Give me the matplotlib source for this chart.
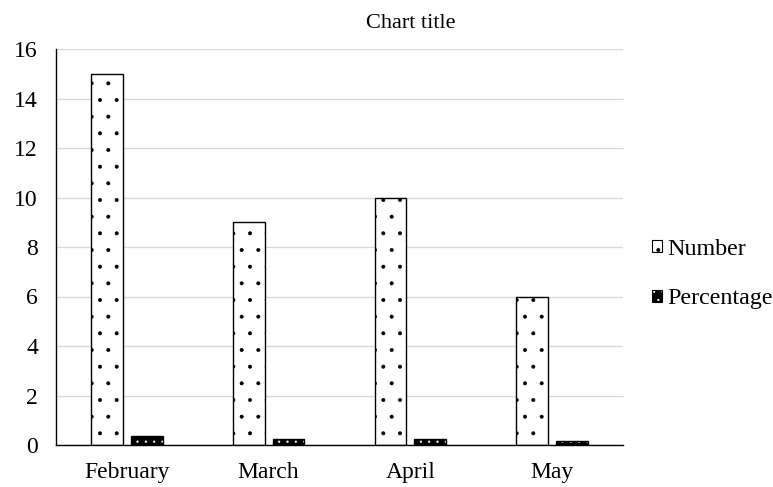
import matplotlib
matplotlib.use("Agg")
import matplotlib.pyplot as plt
from matplotlib.patches import Patch
from matplotlib.legend_handler import HandlerTuple
import numpy as np

months = ["February", "March", "April", "May"]
number = [15, 9, 10, 6]
percentage = [0.375, 0.225, 0.25, 0.15]
y_ticks = [0, 2, 4, 6, 8, 10, 12, 14, 16]

plt.rcParams["font.family"] = ["Liberation Serif", "DejaVu Serif"]
plt.rcParams["hatch.linewidth"] = 0.4

fig = plt.figure(figsize=(7.73, 4.87), dpi=100)
ax = fig.add_axes([56 / 773, 42 / 487, 567 / 773, 396 / 487])

x = np.arange(len(months))
w = 0.225
off = 0.14

# Number: white bars with sparse black dots
ax.bar(x - off, number, w, facecolor="white", edgecolor="black",
       hatch=".", linewidth=1.0, zorder=3)

# Percentage: black bars with dense white dots, then a black outline
ax.bar(x + off, percentage, w, facecolor="black", edgecolor="white",
       hatch="..", linewidth=0, zorder=3)
ax.bar(x + off, percentage, w, facecolor="none", edgecolor="black",
       linewidth=1.0, zorder=4)

ax.set_xlim(-0.5, len(months) - 0.5)
ax.set_ylim(0, 16)
ax.set_yticks(y_ticks)
ax.set_xticks(x)
ax.set_xticklabels(months)
ax.tick_params(axis="both", length=0, labelsize=17)
ax.tick_params(axis="y", pad=13)
ax.tick_params(axis="x", pad=12)
ax.grid(axis="y", color="#d9d9d9", linewidth=1.0, zorder=0)
for s in ["top", "right"]:
    ax.spines[s].set_visible(False)
for s in ["bottom", "left"]:
    ax.spines[s].set_color("black")
    ax.spines[s].set_linewidth(1.0)
    ax.spines[s].set_zorder(5)

fig.text(411 / 773, 1 - 23 / 487, "Chart title", ha="center", va="center",
         fontsize=16)

h_num = Patch(facecolor="white", edgecolor="black", hatch=".", linewidth=0.8)
h_pct = (Patch(facecolor="black", edgecolor="white", hatch="..", linewidth=0),
         Patch(facecolor="none", edgecolor="black", linewidth=0.8))
leg = fig.legend([h_num, h_pct], ["Number", "Percentage"],
                 loc="center left", bbox_to_anchor=(652 / 773, 1 - 274 / 487),
                 frameon=False, fontsize=17.3, handlelength=0.42,
                 handleheight=0.42, handletextpad=0.2, labelspacing=1.2,
                 borderpad=0, borderaxespad=0,
                 handler_map={tuple: HandlerTuple(ndivide=1, pad=0)})

fig.savefig("out.png", dpi=100)
